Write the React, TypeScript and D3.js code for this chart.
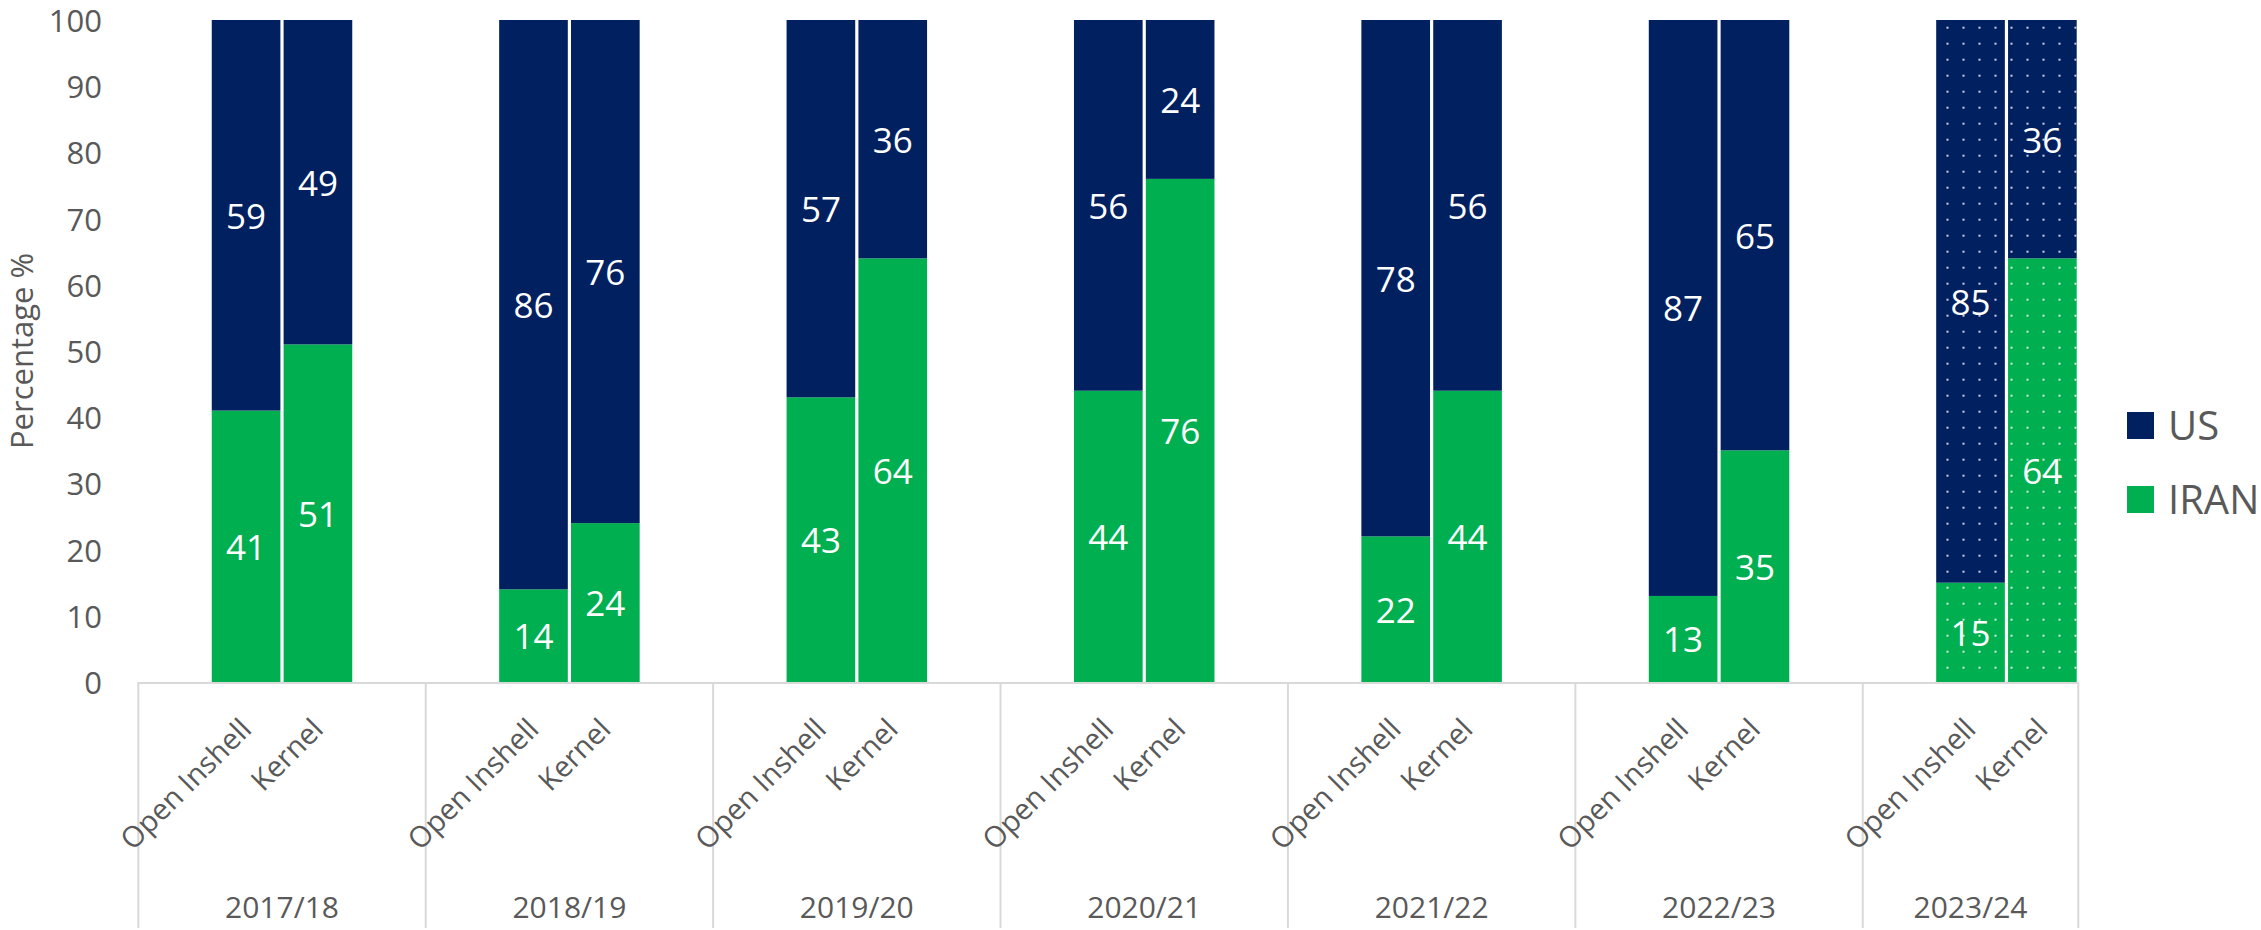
import React from 'react';
import * as d3 from 'd3';

const years = ['2017/18', '2018/19', '2019/20', '2020/21', '2021/22', '2022/23', '2023/24'];
const products = ['Open Inshell', 'Kernel'];
const iranOpenInshell = [41, 14, 43, 44, 22, 13, 15];
const usOpenInshell = [59, 86, 57, 56, 78, 87, 85];
const iranKernel = [51, 24, 64, 76, 44, 35, 64];
const usKernel = [49, 76, 36, 24, 56, 65, 36];
const patternedYears = ['2023/24'];
const seriesKeys = ['IRAN', 'US'];
const seriesColors: Record<string, string> = { US: '#002060', IRAN: '#00B050' };
const legendOrder = ['US', 'IRAN'];
const yTicks = [0, 10, 20, 30, 40, 50, 60, 70, 80, 90, 100];
const yTitle = 'Percentage %';

const W = 2261;
const H = 930;
const FONT = "'Open Sans', 'Noto Sans', sans-serif";
const GREY = '#595959';
const LINE = '#d9d9d9';

type Row = { key: string; year: string; product: string; IRAN: number; US: number };

const rows: Row[] = [];
years.forEach((yr, i) => {
  rows.push({ key: `${yr}|${products[0]}`, year: yr, product: products[0], IRAN: iranOpenInshell[i], US: usOpenInshell[i] });
  rows.push({ key: `${yr}|${products[1]}`, year: yr, product: products[1], IRAN: iranKernel[i], US: usKernel[i] });
});

// slot layout: pad, Open Inshell, Kernel, pad (last group has no trailing pad)
const slots: string[] = [];
years.forEach((yr, i) => {
  slots.push(`${yr}|padL`);
  products.forEach((p) => slots.push(`${yr}|${p}`));
  if (i < years.length - 1) slots.push(`${yr}|padR`);
});

export default function App() {
  if (typeof document !== 'undefined') document.body.style.margin = '0';

  const axisY = 682;
  const y = d3.scaleLinear().domain([0, 100]).range([axisY, 20]);
  const x = d3.scaleBand<string>().domain(slots).range([138.3, 2078.3]).paddingInner(0).paddingOuter(0);
  const bw = x.bandwidth();
  const inset = 1.6;

  const stacked = d3.stack<Row>().keys(seriesKeys)(rows);

  const groupStart = (yr: string) => x(`${yr}|padL`)!;
  const boundaries = years.map((yr) => groupStart(yr));
  boundaries.push(x.range()[1]);

  return (
    <svg width={W} height={H} style={{ position: 'absolute', left: 0, top: 0, background: '#fff' }} fontFamily={FONT}>
      <defs>
        <pattern id="dots" patternUnits="userSpaceOnUse" x={0} y={0} width={16} height={16}>
          <rect x={10.5} y={10.7} width={2} height={2} fill="#ffffff" opacity={0.8} />
        </pattern>
      </defs>

      {/* y tick labels */}
      {yTicks.map((t) => (
        <text key={t} x={102} y={y(t)} textAnchor="end" dominantBaseline="central" fontSize={31} fill={GREY}>
          {t}
        </text>
      ))}
      <text
        transform={`translate(${21}, ${(y(0) + y(100)) / 2}) rotate(-90)`}
        textAnchor="middle"
        dominantBaseline="central"
        fontSize={31}
        fill={GREY}
      >
        {yTitle}
      </text>

      {/* bars */}
      {stacked.map((s) => (
        <g key={s.key}>
          {s.map((d) => {
            const r = d.data;
            const x0 = x(r.key)! + inset;
            const w = bw - inset * 2;
            const top = y(d[1]);
            const h = y(d[0]) - y(d[1]);
            const patterned = patternedYears.includes(r.year);
            return (
              <g key={r.key}>
                <rect x={x0} y={top} width={w} height={h} fill={seriesColors[s.key]} />
                {patterned && <rect x={x0} y={top} width={w} height={h} fill="url(#dots)" />}
                <text
                  x={x0 + w / 2}
                  y={(y(d[0]) + y(d[1])) / 2}
                  textAnchor="middle"
                  dominantBaseline="central"
                  fontSize={35}
                  fill="#ffffff"
                >
                  {d[1] - d[0]}
                </text>
              </g>
            );
          })}
        </g>
      ))}

      {/* category axis */}
      <line x1={x.range()[0]} x2={x.range()[1]} y1={axisY + 1} y2={axisY + 1} stroke={LINE} strokeWidth={2} />
      {boundaries.map((b, i) => (
        <line key={i} x1={b} x2={b} y1={axisY} y2={928} stroke={LINE} strokeWidth={2} />
      ))}
      {rows.map((r) => {
        const cx = x(r.key)! + bw / 2;
        return (
          <text
            key={r.key}
            transform={`translate(${cx + 7}, ${731}) rotate(-45)`}
            textAnchor="end"
            fontSize={29}
            fill={GREY}
          >
            {r.product}
          </text>
        );
      })}
      {years.map((yr, i) => (
        <text
          key={yr}
          x={(boundaries[i] + boundaries[i + 1]) / 2}
          y={918}
          textAnchor="middle"
          fontSize={30}
          fill={GREY}
        >
          {yr}
        </text>
      ))}

      {/* legend */}
      {legendOrder.map((k, i) => (
        <g key={k} transform={`translate(2127, ${412 + i * 74})`}>
          <rect x={0} y={0} width={27} height={27} fill={seriesColors[k]} />
          <text x={41} y={28} fontSize={40} fill={GREY}>
            {k}
          </text>
        </g>
      ))}
    </svg>
  );
}
